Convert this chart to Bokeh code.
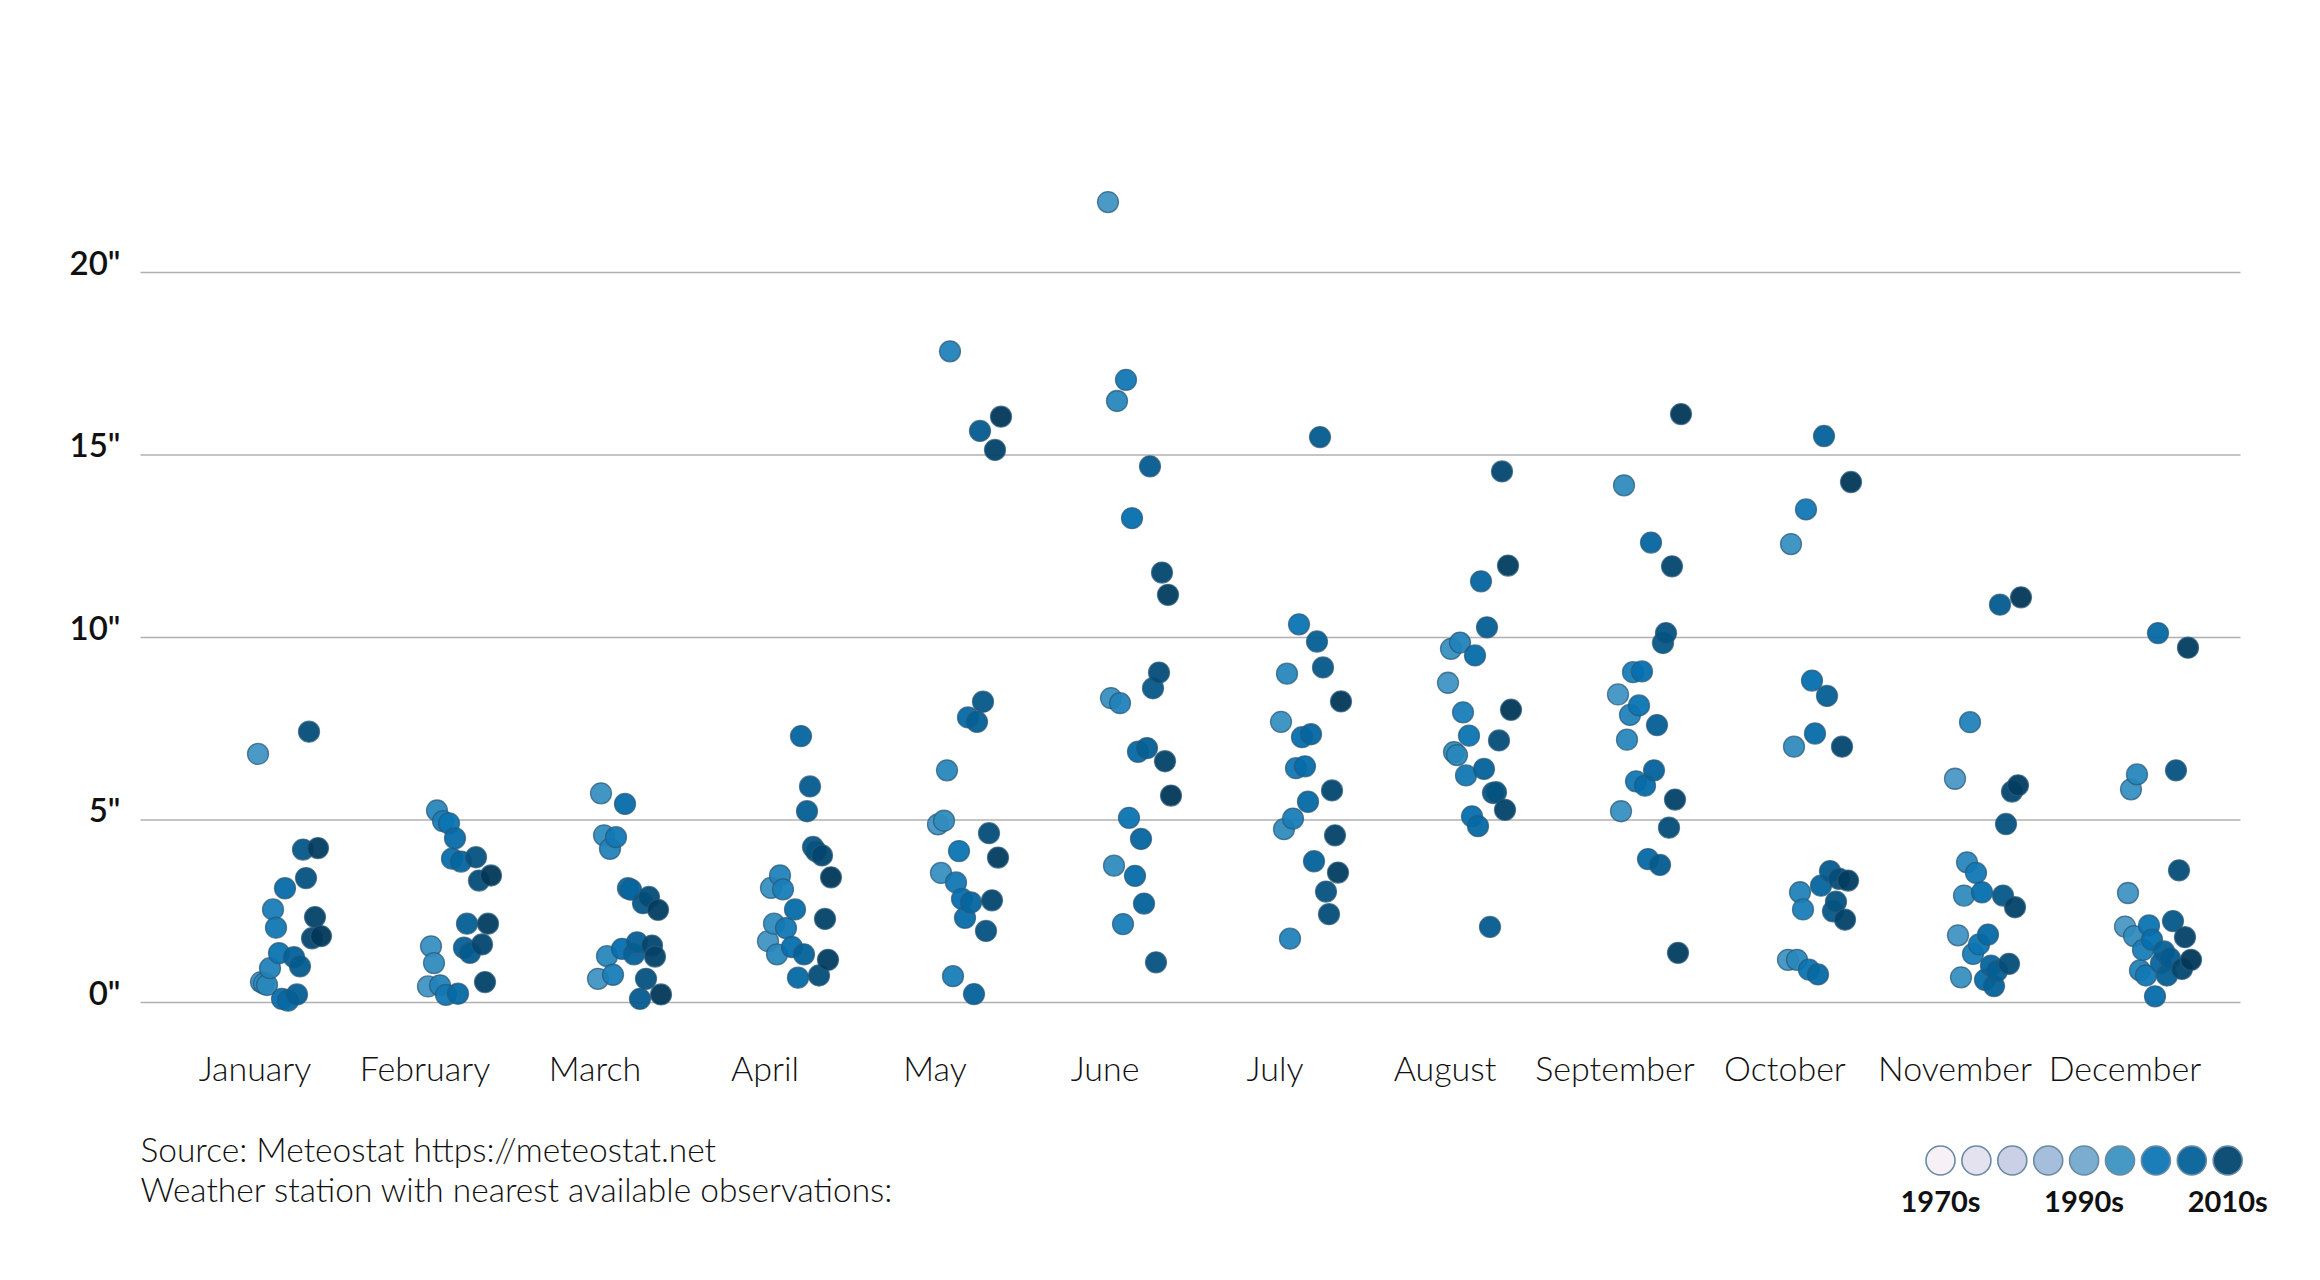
from bokeh.plotting import figure
from bokeh.models import ColumnDataSource, Range1d
from bokeh.embed import file_html
from bokeh.resources import INLINE
from bokeh.core.properties import value

# ---------------- data ----------------
MONTHS = ["January", "February", "March", "April", "May", "June", "July",
          "August", "September", "October", "November", "December"]
YEARS = [2001, 2002, 2003, 2004, 2005, 2006, 2007, 2008, 2009, 2010, 2011, 2012,
         2013, 2014, 2015, 2016, 2017, 2018, 2019, 2020, 2021, 2022, 2023]

# monthly precipitation (inches), one value per year in YEARS (None = no data)
JAN = [None, 6.81, 0.56, 0.52, 0.48, 0.94, 2.55, 2.05, 1.35, 0.10, 3.13, 0.05, None,
       1.24, 0.22, 0.99, 4.19, 3.41, 7.42, 1.76, 2.34, 4.23, 1.82]
FEB = [None, 0.44, 1.54, 1.08, 5.26, 0.47, 4.97, 0.21, 4.91, 3.94, 4.50, 0.24, 3.86,
       1.50, 2.16, 1.36, None, 3.98, 3.34, 1.59, 0.56, 2.16, 3.48]
MAR = [None, 0.65, 5.73, 4.58, 1.27, 4.21, 0.76, 4.53, None, 1.47, 5.44, 3.13, 3.09,
       1.32, 1.65, 0.10, 2.72, 0.65, 2.89, 1.56, 1.26, 2.54, 0.22]
APR = [None, 1.68, 3.14, 2.16, 1.32, 3.48, 3.10, 2.04, None, 1.52, 2.55, 0.68, 7.30,
       1.32, 5.24, 5.92, 4.26, 4.15, 0.74, 4.03, 2.29, 1.17, 3.43]
MAY = [None, 4.88, 3.55, 4.98, 6.36, 17.84, 0.72, 3.29, 4.15, 2.84, 2.32, 7.81, 2.74,
       0.23, 7.69, 15.66, 8.24, 1.96, 4.64, 2.80, 15.14, 3.97, 16.05]
JUN = [None, 21.93, 8.34, 3.75, 16.48, 8.20, 2.15, 17.06, 5.06, 13.27, 3.47, 6.87, 4.48,
       2.71, 6.97, 14.69, 8.61, 1.10, 9.04, 11.78, 6.61, 11.17, 5.67]
JUL = [None, None, 7.69, 4.75, 9.01, 1.75, 5.04, 6.42, 10.36, 7.27, 6.47, 5.50, 7.35,
       3.87, 9.89, 15.49, 9.18, 3.04, 2.42, 5.81, 4.58, 3.56, 8.25]
AUG = [None, 8.76, 9.69, 6.86, 6.78, 9.86, 7.95, 6.22, 7.31, 5.10, 9.51, 4.83, 11.54,
       6.40, 10.28, 2.07, 5.74, 5.76, 7.18, 14.55, 5.28, 11.97, 8.02]
SEP = [None, 8.44, 5.24, 14.17, 7.20, 7.88, 9.05, 6.06, 8.14, 9.07, 5.94, 3.93, 12.60,
       6.36, 7.60, 3.77, 9.85, 10.12, 4.79, 11.95, 5.56, 1.36, 16.12]
OCT = [None, 1.17, 12.56, 7.01, 1.17, 3.02, 2.55, 13.51, 0.90, 8.82, 7.37, 0.77, 3.20,
       15.52, 8.40, 3.60, 2.50, 2.76, 3.39, 7.01, 2.27, 3.34, 14.26]
NOV = [6.13, 1.84, 0.69, 2.93, 3.84, 7.68, 1.33, 3.55, 1.59, 3.02, 0.62, 1.86, 1.01,
       0.45, 0.86, 10.90, 2.93, 4.89, 1.06, 5.78, 2.61, 5.95, 11.10]
DEC = [2.08, 3.00, 5.84, 1.82, 6.25, 0.88, 1.44, 0.74, 2.11, 1.72, 0.17, 10.12, 1.08,
       1.40, 0.74, 1.21, 2.23, 6.36, 3.62, 0.92, 1.79, 9.72, 1.17]
PRECIP = [JAN, FEB, MAR, APR, MAY, JUN, JUL, AUG, SEP, OCT, NOV, DEC]

TICKS = [0, 5, 10, 15, 20]
TICK_LABELS = ['0"', '5"', '10"', '15"', '20"']
LEGEND_LABELS = ["1970s", "", "", "", "1990s", "", "", "", "2010s"]
COLOR_DOMAIN = (1970, 2023)
SOURCE_LINES = ["Source: Meteostat https://meteostat.net",
                "Weather station with nearest available observations:"]

# ---------------- styles / layout ----------------
PUBU = ["#fff7fb", "#ece7f2", "#d0d1e6", "#a6bddb", "#74a9cf",
        "#3690c0", "#0570b0", "#045a8d", "#023858"]
FONT = value("Lato")
W, H = 2304, 1264
MONTH_PX = 170.0      # px between month columns
YEAR_PX = 3.0         # px between consecutive years inside a column
INCH_PX = 36.5        # px per inch
JAN_X = 254.5         # canvas px of January column
ZERO_Y = 1002.0       # canvas px of 0" line


def hex2rgb(h):
    h = h.lstrip("#")
    return tuple(int(h[i:i + 2], 16) for i in (0, 2, 4))


def pubu(t):
    t = min(max(t, 0.0), 1.0)
    pos = t * (len(PUBU) - 1)
    i = min(int(pos), len(PUBU) - 2)
    f = pos - i
    a, b = hex2rgb(PUBU[i]), hex2rgb(PUBU[i + 1])
    c = [round(a[k] + (b[k] - a[k]) * f) for k in range(3)]
    return "#%02x%02x%02x" % tuple(c)


def year_color(y):
    return pubu((y - COLOR_DOMAIN[0]) / (COLOR_DOMAIN[1] - COLOR_DOMAIN[0]))


def px_x(px):
    return (px - JAN_X) / MONTH_PX


def px_y(py):
    return (ZERO_Y - py) / INCH_PX


p = figure(width=W, height=H, output_backend="svg", toolbar_location=None,
           x_range=Range1d(px_x(0), px_x(W)), y_range=Range1d(px_y(H), px_y(0)),
           x_axis_location=None, y_axis_location=None, min_border=0,
           background_fill_color="white", border_fill_color="white",
           outline_line_color=None)
p.grid.visible = False

# gridlines
p.segment(x0=[px_x(140)] * len(TICKS), x1=[px_x(2240)] * len(TICKS), y0=TICKS, y1=TICKS,
          line_color="#b0b0b0", line_width=1.5)

# y tick labels (sit just above their gridline)
p.text(x=[px_x(120)] * len(TICKS), y=TICKS, text=TICK_LABELS,
       text_font=value("Lato Semibold"), text_font_size="33px", text_align="right",
       text_baseline="middle", text_color="#111111", y_offset=-11)

# points
xs, ys, cols = [], [], []
for yi, yr in enumerate(YEARS):
    for mi, vals in enumerate(PRECIP):
        v = vals[yi]
        if v is None:
            continue
        xs.append(mi + (yr - YEARS[0]) * YEAR_PX / MONTH_PX)
        ys.append(v)
        cols.append(year_color(yr))
src = ColumnDataSource(dict(x=xs, y=ys, c=cols))
p.scatter("x", "y", source=src, size=21, fill_color="c", fill_alpha=0.95,
          line_color="#2a5878", line_alpha=0.75, line_width=1.3)

# month labels
p.text(x=list(range(len(MONTHS))), y=[px_y(1067)] * len(MONTHS), text=MONTHS,
       text_font=value("Lato Light"), text_font_size="34px", text_align="center",
       text_baseline="middle", text_color="#111111")

# source lines
p.text(x=[px_x(140)] * 2, y=[px_y(1148), px_y(1188)], text=SOURCE_LINES,
       text_font=value("Lato Light"), text_font_size="33.5px", text_align="left",
       text_baseline="middle", text_color="#111111")

# legend
n = len(LEGEND_LABELS)
lx = [px_x(1940 + 35.9 * i) for i in range(n)]
lcol = [pubu((i + 0.5) / n) for i in range(n)]
p.scatter(x=lx, y=[px_y(1160)] * n, size=29, fill_color=lcol, fill_alpha=0.95,
          line_color="#6a8aa2", line_width=1.6)
p.text(x=lx, y=[px_y(1200)] * n, text=LEGEND_LABELS, text_font=FONT,
       text_font_size="29px", text_font_style="bold", text_align="center",
       text_baseline="middle", text_color="#111111")

open("out.html", "w").write(file_html(p, INLINE))
